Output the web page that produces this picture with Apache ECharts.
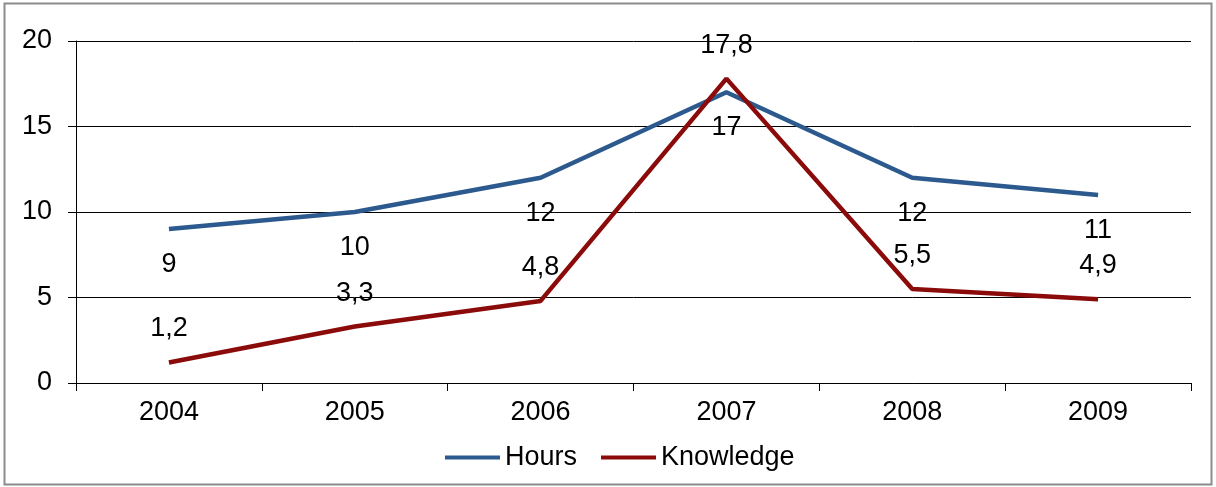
<!DOCTYPE html>
<html>
<head>
<meta charset="utf-8">
<script src="https://cdn.jsdelivr.net/npm/echarts@6/dist/echarts.min.js"></script>
<style>
html,body{margin:0;padding:0;background:#fff;}
#c{width:1216px;height:487px;}
</style>
</head>
<body>
<div id="c"></div>
<script>
var categories = ['2004', '2005', '2006', '2007', '2008', '2009'];
var hours = [9, 10, 12, 17, 12, 11];
var knowledge = [1.2, 3.3, 4.8, 17.8, 5.5, 4.9];
var yTicks = [0, 5, 10, 15, 20];

var chart = echarts.init(document.getElementById('c'));
var font = 'Liberation Sans, Arial, sans-serif';
var fmt = function (p) { return String(p.value).replace('.', ','); };
chart.setOption({
  animation: false,
  backgroundColor: '#fff',
  graphic: [{
    type: 'rect', shape: { x: 4.5, y: 3.5, width: 1207, height: 481 },
    style: { fill: 'none', stroke: '#8c8c8c', lineWidth: 2 }, z: 0, silent: true
  }],
  grid: { left: 76, right: 25, top: 41, bottom: 104 },
  legend: {
    left: 440, top: 439, itemWidth: 55, itemHeight: 4, itemGap: 24,
    icon: 'rect',
    textStyle: { fontFamily: font, fontSize: 27, color: '#000' },
    data: ['Hours', 'Knowledge']
  },
  xAxis: {
    type: 'category', data: categories, boundaryGap: true,
    axisLine: { lineStyle: { color: '#000', width: 1 } },
    axisTick: { show: true, length: 8, lineStyle: { color: '#000' } },
    axisLabel: { color: '#000', fontFamily: font, fontSize: 27, margin: 16 }
  },
  yAxis: {
    type: 'value', min: yTicks[0], max: yTicks[yTicks.length - 1], interval: 5,
    axisLine: { show: true, lineStyle: { color: '#000', width: 1 } },
    axisTick: { show: true, length: 8, lineStyle: { color: '#000' } },
    splitLine: { show: true, lineStyle: { color: '#000', width: 1 } },
    axisLabel: { color: '#000', fontFamily: font, fontSize: 27, margin: 24 }
  },
  series: [{
    name: 'Hours', type: 'line', data: hours,
    symbol: 'circle', symbolSize: 0, showSymbol: true,
    color: '#2D5A8E',
    lineStyle: { color: '#2D5A8E', width: 4.5 },
    label: { show: true, position: 'bottom', distance: 22, formatter: fmt,
      color: '#000', fontFamily: font, fontSize: 27 }
  }, {
    name: 'Knowledge', type: 'line', data: knowledge,
    symbol: 'circle', symbolSize: 0, showSymbol: true,
    color: '#8B0A0A',
    lineStyle: { color: '#8B0A0A', width: 4.5 },
    label: { show: true, position: 'top', distance: 20, formatter: fmt,
      color: '#000', fontFamily: font, fontSize: 27 }
  }]
});
</script>
</body>
</html>
